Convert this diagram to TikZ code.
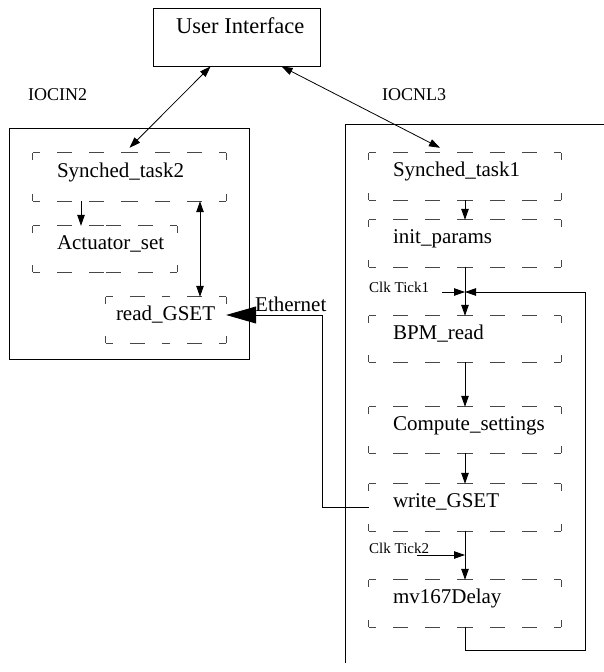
\documentclass[tikz,border=0pt]{standalone}
\usepackage{fontspec}
\setmainfont{Liberation Serif}
\usetikzlibrary{arrows.meta}
\begin{document}
\begin{tikzpicture}[x=1pt,y=-1pt,
  lbl/.style={inner sep=0pt,font=\fontsize{21}{25}\selectfont},
  biglbl/.style={inner sep=0pt,font=\fontsize{22.5}{27}\selectfont},
  midlbl/.style={inner sep=0pt,font=\fontsize{18}{22}\selectfont},
  smlbl/.style={inner sep=0pt,font=\fontsize{15}{18}\selectfont},
  dbox/.style={draw=none,inner sep=0pt,rectangle},
  dsh/.style={draw=black!72,line width=1.1pt,dash pattern=on 15pt off 17pt,dash phase=7.5pt},
  ln/.style={draw=black,line width=0.8pt},
  arr/.style={ln,-{Triangle[length=11pt,width=7.5pt]}},
  darr/.style={ln,{Triangle[length=11pt,width=7.5pt]}-{Triangle[length=11pt,width=7.5pt]}}
]
\useasboundingbox (0,0) rectangle (604,672);
% User interface
\node[ln,draw,minimum width=167pt,minimum height=58pt,inner sep=0pt] (ui) at (236.5,37) {};
\node[biglbl,anchor=base west] (uit) at (176,33) {User Interface};
% labels
\node[midlbl,anchor=base west] (iocin) at (28,100) {IOCIN2};
\node[midlbl,anchor=base west] (iocnl) at (382,100) {IOCNL3};
% outer boxes
\draw[ln] (9,128) rectangle (249,359);
\draw[ln] (610,124) -- (345,124) -- (345,663);
% dashed boxes
\node[dbox,minimum width=193pt,minimum height=48pt] (st2) at (129.5,177) {};
\node[dbox,minimum width=144pt,minimum height=46pt] (act) at (105,249) {};
\node[dbox,minimum width=120pt,minimum height=46pt] (rg) at (166,320) {};
\node[dbox,minimum width=192pt,minimum height=47pt] (st1) at (465,176.5) {};
\node[dbox,minimum width=192pt,minimum height=47pt] (ip) at (465,243.5) {};
\node[dbox,minimum width=192pt,minimum height=46pt] (bpm) at (465,339) {};
\node[dbox,minimum width=192pt,minimum height=46pt] (cs) at (465,430) {};
\node[dbox,minimum width=192pt,minimum height=47pt] (wg) at (465,507.5) {};
\node[dbox,minimum width=192pt,minimum height=47pt] (mv) at (465,603.5) {};
\foreach \n in {st2,act,rg,st1,ip,bpm,cs,wg,mv}{
  \draw[dsh] (\n.north west) -- (\n.north);
  \draw[dsh] (\n.north east) -- (\n.north);
  \draw[dsh] (\n.south west) -- (\n.south);
  \draw[dsh] (\n.south east) -- (\n.south);
  \draw[dsh] (\n.north west) -- (\n.west);
  \draw[dsh] (\n.south west) -- (\n.west);
  \draw[dsh] (\n.north east) -- (\n.east);
  \draw[dsh] (\n.south east) -- (\n.east);
}
% box texts
\node[lbl,anchor=base west] (st2t) at ([xshift=24pt]st2.west) {Synched\_task2};
\node[lbl,anchor=base west] (actt) at ([xshift=24pt]act.west) {Actuator\_set};
\node[lbl,anchor=base west] (rgt) at ([xshift=10pt]rg.west) {read\_GSET};
\node[lbl,anchor=base west] (st1t) at ([xshift=24pt]st1.west) {Synched\_task1};
\node[lbl,anchor=base west] (ipt) at ([xshift=24pt]ip.west) {init\_params};
\node[lbl,anchor=base west] (bpmt) at ([xshift=24pt]bpm.west) {BPM\_read};
\node[lbl,anchor=base west] (cst) at ([xshift=24pt]cs.west) {Compute\_settings};
\node[lbl,anchor=base west] (wgt) at ([xshift=24pt]wg.west) {write\_GSET};
\node[lbl,anchor=base west] (mvt) at ([xshift=24pt]mv.west) {mv167Delay};
% UI connectors
\draw[darr] ([yshift=5pt]st2.north) -- ([xshift=58pt]ui.south west);
\draw[darr] ([xshift=-25pt,yshift=5pt]st1.north) -- ([xshift=129pt]ui.south west);
% left internal
\draw[arr] ([xshift=-24pt]act.north |- st2.south) -- ([xshift=-24pt]act.north);
\draw[darr] ([xshift=34pt]rg.north |- st2.south) -- ([xshift=34pt]rg.north);
% right chain
\draw[arr] (st1.south) -- (ip.north);
\draw[arr] (ip.south) -- (bpm.north);
\draw[arr] (bpm.south) -- (cs.north);
\draw[arr] (cs.south) -- (wg.north);
\draw[arr] (wg.south) -- (mv.north);
% clk ticks
\coordinate (j1) at (465,292);
\coordinate (c1) at (442,292);
\draw[arr] (c1) -- (j1);
\node[smlbl,anchor=base west] (ck1) at (369,292) {Clk Tick1};
\coordinate (j2) at (465,555);
\coordinate (c2) at (417,555);
\node[smlbl,anchor=base west] (ck2) at (369,553) {Clk Tick2};
\draw[arr] (c2) -- (j2);
% loop
\draw[arr] (mv.south) -- (465,650) -- (585,650) -- (585,292) -- (j1);
% Ethernet
\draw[ln,-{Triangle[length=30pt,width=17pt]}] (wg.west) -- (322,507.5) -- (322,315) -- ([yshift=5pt]rg.east);
\node[lbl,anchor=base west] (eth) at (255,311) {Ethernet};
\end{tikzpicture}
\end{document}
